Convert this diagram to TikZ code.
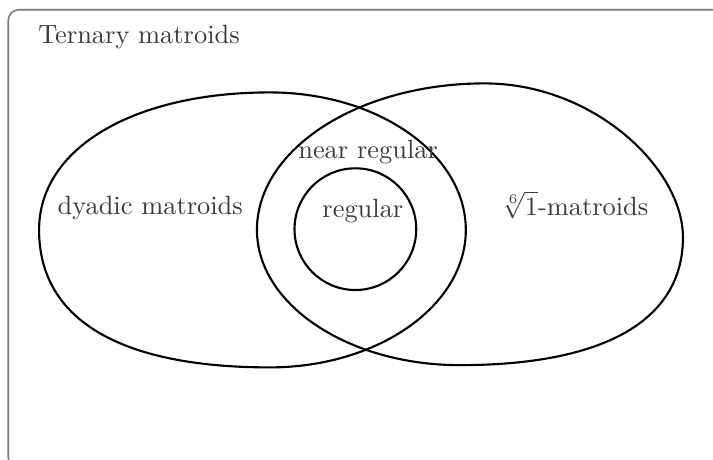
\documentclass[tikz,border=0pt]{standalone}
\usepackage{amsmath,amssymb}
\usepackage{tikz}
\definecolor{Marco}{HTML}{7A7A7A}
\definecolor{Texto}{HTML}{3A3A3A}

\begin{document}
\begin{tikzpicture}[
  every node/.style={text=Texto},
  blob/.style={thick,draw=black},
  frame/.style={semithick,draw=Marco,rounded corners=4pt}
]
  \clip (0,0) rectangle (9.49,6.11);
  \draw[frame] (0.11,-0.12) rectangle (9.80,5.98);
  \node (ternary) at (1.85,5.62) {Ternary matroids};

  % dyadic
  \draw[blob] (0.52,3.05) .. controls (0.52,4.15) and (1.80,4.88) .. (3.59,4.88)
    .. controls (5.03,4.88) and (6.20,4.06) .. (6.20,3.05)
    .. controls (6.20,2.04) and (5.03,1.22) .. (3.59,1.22)
    .. controls (1.59,1.22) and (0.52,1.86) .. cycle;
  % sixth root of unity
  \draw[blob] (3.42,3.05) .. controls (3.42,4.13) and (4.78,5.00) .. (6.45,5.00)
    .. controls (7.90,5.00) and (9.09,3.87) .. (9.09,2.95)
    .. controls (9.09,1.85) and (8.05,1.25) .. (6.12,1.25)
    .. controls (4.63,1.25) and (3.42,2.06) .. cycle;
  % regular
  \draw[blob] (4.73,3.06) circle (0.81);

  \node (dyadic) at (2.00,3.34) {dyadic matroids};
  \node (sixth) at (7.65,3.38) {$\sqrt[6]{1}$-matroids};
  \node (nearreg) at (4.90,4.09) {near regular};
  \node (reg) at (4.83,3.30) {regular};
\end{tikzpicture}
\end{document}
